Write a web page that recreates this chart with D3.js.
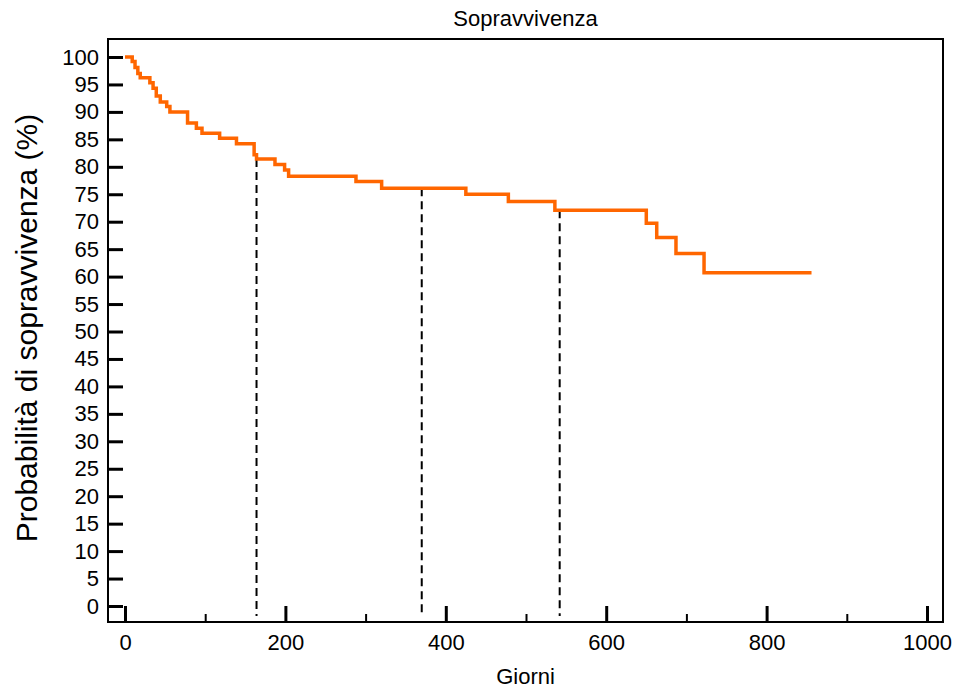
<!DOCTYPE html>
<html>
<head>
<meta charset="utf-8">
<script src="https://cdn.jsdelivr.net/npm/d3@7"></script>
<style>
  html, body { margin: 0; padding: 0; background: #fff; }
  svg { display: block; font-family: "Liberation Sans", Arial, sans-serif; }
</style>
</head>
<body>
<svg id="chart" width="958" height="691"></svg>
<script>
// Kaplan–Meier survival estimate: event times (days) and survival (%) after each step
const stepDays = [0, 9, 12.5, 16, 19, 31, 35, 39, 44, 52, 56, 78, 89, 96, 118, 139, 161, 164, 187, 199, 204, 288, 320, 425, 478, 536, 650, 663, 687, 722, 856];
const survival = [100, 99.2, 98.1, 97.0, 96.2, 95.3, 94.3, 92.9, 91.8, 91.0, 90.0, 88.0, 87.0, 86.1, 85.2, 84.2, 82.2, 81.4, 80.4, 79.4, 78.3, 77.3, 76.1, 75.0, 73.7, 72.1, 69.7, 67.1, 64.2, 60.7, 60.7];

// reference times marked with dashed drop lines
const markerDays = [164, 370, 542];

// axis ticks
const xMajorTicks = [0, 200, 400, 600, 800, 1000];
const xMinorTicks = [100, 300, 500, 700, 900];
const yTicks = d3.range(0, 101, 5);

const titleText = "Sopravvivenza";
const xLabel = "Giorni";
const yLabel = "Probabilità di sopravvivenza (%)";

const svg = d3.select("#chart");

// plotting frame
const frame = { left: 108, right: 943, top: 39, bottom: 622 };

const x = d3.scaleLinear().domain([0, 1000]).range([125, 927]);
const y = d3.scaleLinear().domain([0, 100]).range([606, 57]);

// survival at a given day (step function, value after last event <= day)
function survivalAt(day) {
  const i = d3.bisectRight(stepDays, day) - 1;
  return survival[Math.max(0, i)];
}

// frame box
svg.append("rect")
  .attr("x", frame.left).attr("y", frame.top)
  .attr("width", frame.right - frame.left)
  .attr("height", frame.bottom - frame.top)
  .attr("fill", "none").attr("stroke", "#000").attr("stroke-width", 2);

// x axis (major ticks with labels, pointing into the plot)
const xAxis = d3.axisBottom(x)
  .tickValues(xMajorTicks)
  .tickFormat(d3.format("d"))
  .tickSizeInner(-16).tickSizeOuter(0).tickPadding(12);
const gx = svg.append("g").attr("transform", `translate(0,${frame.bottom})`).call(xAxis);
gx.select(".domain").remove();
gx.selectAll(".tick line").attr("stroke", "#000").attr("stroke-width", 3);
gx.selectAll(".tick text").attr("fill", "#000")
  .style("font-size", "22px").style("font-family", "Liberation Sans, Arial, sans-serif");

// x axis minor ticks
const xMinor = d3.axisBottom(x)
  .tickValues(xMinorTicks).tickFormat("")
  .tickSizeInner(-8).tickSizeOuter(0);
const gxm = svg.append("g").attr("transform", `translate(0,${frame.bottom})`).call(xMinor);
gxm.select(".domain").remove();
gxm.selectAll(".tick line").attr("stroke", "#000").attr("stroke-width", 2);

// y axis
const yAxis = d3.axisLeft(y)
  .tickValues(yTicks)
  .tickFormat(d3.format("d"))
  .tickSizeInner(-15).tickSizeOuter(0).tickPadding(9);
const gy = svg.append("g").attr("transform", `translate(${frame.left},0)`).call(yAxis);
gy.select(".domain").remove();
gy.selectAll(".tick line").attr("stroke", "#000").attr("stroke-width", 3);
gy.selectAll(".tick text").attr("fill", "#000")
  .style("font-size", "22px").style("font-family", "Liberation Sans, Arial, sans-serif");

// dashed drop lines at the marker times
svg.append("g").selectAll("line")
  .data(markerDays)
  .join("line")
  .attr("x1", d => x(d)).attr("x2", d => x(d))
  .attr("y1", d => y(survivalAt(d)))
  .attr("y2", frame.bottom - 6)
  .attr("stroke", "#000").attr("stroke-width", 2)
  .attr("stroke-dasharray", "8,5");

// survival curve
const points = stepDays.map((d, i) => [d, survival[i]]);
const line = d3.line()
  .x(d => x(d[0])).y(d => y(d[1]))
  .curve(d3.curveStepAfter);
svg.append("path")
  .datum(points)
  .attr("d", line)
  .attr("fill", "none")
  .attr("stroke", "#ff6600")
  .attr("stroke-width", 3.5)
  .attr("stroke-linejoin", "miter");

// title and axis labels
svg.append("text")
  .attr("x", (frame.left + frame.right) / 2).attr("y", 26)
  .attr("text-anchor", "middle")
  .style("font-size", "22px")
  .text(titleText);

svg.append("text")
  .attr("x", (frame.left + frame.right) / 2).attr("y", 684)
  .attr("text-anchor", "middle")
  .style("font-size", "22px")
  .text(xLabel);

svg.append("text")
  .attr("transform", "translate(37,328) rotate(-90)")
  .attr("text-anchor", "middle")
  .style("font-size", "30px")
  .text(yLabel);
</script>
</body>
</html>
